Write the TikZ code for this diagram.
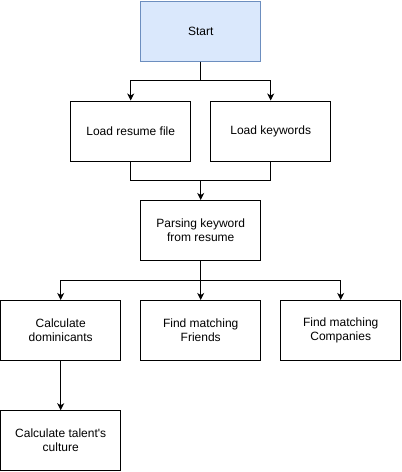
\documentclass[tikz,border=0pt]{standalone}
\usepackage{fontspec}
\newfontfamily\plainfont{Liberation Sans}
\usetikzlibrary{arrows.meta}
\definecolor{startfill}{HTML}{DAE8FC}
\definecolor{startline}{HTML}{6C8EBF}
\tikzset{
  box/.style={draw=black, line width=1pt, minimum width=120pt, minimum height=60pt, inner sep=0pt, align=center, font=\plainfont\fontsize{12}{14}\selectfont, fill=white},
  startbox/.style={box, draw=startline, fill=startfill},
  conn/.style={line width=1pt},
  arr/.style={conn, -{Stealth[length=7pt,width=7pt,inset=2pt]}}
}
\begin{document}
\begin{tikzpicture}[x=1pt,y=-1pt]
\useasboundingbox (0,0) rectangle (402,472);
\node[startbox] (start) at (200.7,31) {Start};
\node[box] (lr) at (130.7,131) {Load resume file};
\node[box] (lk) at (270.7,131) {Load keywords};
\node[box] (parse) at (200.7,230.5) {Parsing keyword\\from resume};
\node[box] (cd) at (60.7,330.5) {Calculate\\dominicants};
\node[box] (ff) at (200.7,330.5) {Find matching\\Friends};
\node[box] (fc) at (340.7,330.5) {Find matching\\Companies};
\node[box] (tc) at (60.7,440.7) {Calculate talent's\\culture};
\coordinate (j1) at (200.7,80.5);
\coordinate (j2) at (200.7,180.5);
\coordinate (j3) at (200.7,280.5);
\draw[arr] (start.south) -- (j1) -| (lr.north);
\draw[arr] (start.south) -- (j1) -| (lk.north);
\draw[conn] (lr.south) |- (j2);
\draw[conn] (lk.south) |- (j2);
\draw[arr] (j2) -- (parse.north);
\draw[arr] (parse.south) -- (j3) -| (cd.north);
\draw[arr] (parse.south) -- (ff.north);
\draw[arr] (parse.south) -- (j3) -| (fc.north);
\draw[arr] (cd.south) -- (tc.north);
\end{tikzpicture}
\end{document}
